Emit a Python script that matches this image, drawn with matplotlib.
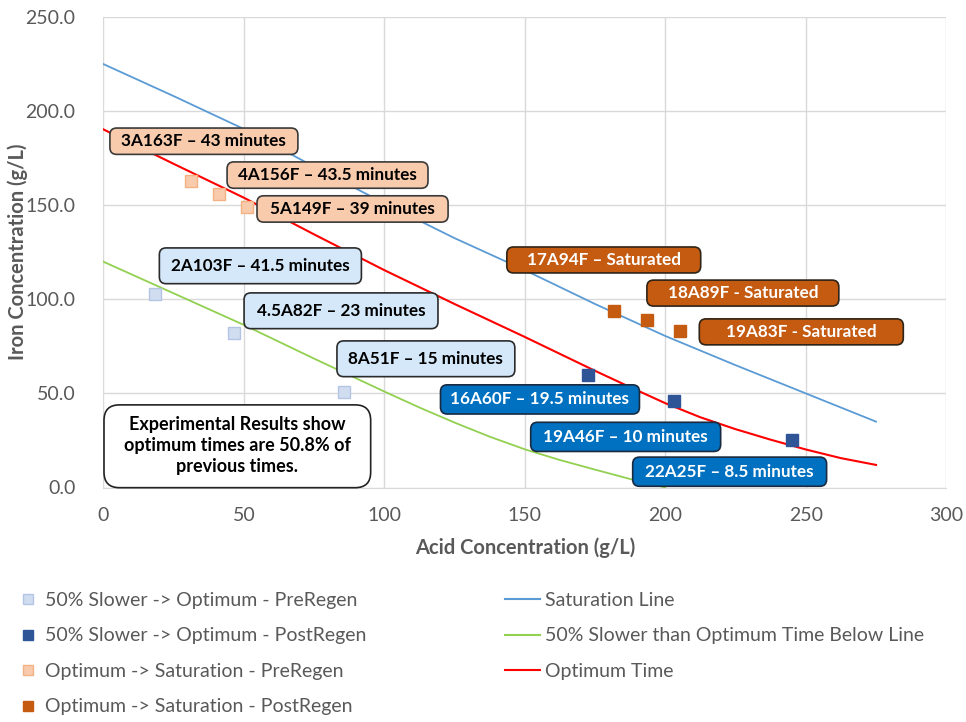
import matplotlib
matplotlib.use("Agg")
from matplotlib import pyplot as plt
from matplotlib.lines import Line2D
from matplotlib.patches import FancyBboxPatch

plt.rcParams['font.family'] = ['Lato', 'DejaVu Sans']

# scatter data (acid g/L, iron g/L)
slow_pre_x = [18.5, 46.6, 85.7]
slow_pre_y = [103, 82, 51]
slow_post_x = [172.6, 203.2, 245.1]
slow_post_y = [60, 46, 25]
opt_pre_x = [31.3, 41.2, 51.2]
opt_pre_y = [163, 156, 149]
opt_post_x = [181.6, 193.5, 205.3]
opt_post_y = [94, 89, 83]

# curves
sat_x = [0, 25, 50, 75, 100, 125, 150, 175, 200, 225, 250, 275]
sat_y = [225, 208, 190.5, 170.5, 151, 132.5, 115.5, 97.5, 80.5, 65, 50, 35]
opt_x = [0, 25, 50, 75, 100, 125, 150, 175, 187.5, 200, 212.5, 225, 237.5, 250, 262.5, 275]
opt_y = [190.3, 172, 154, 134.5, 115.5, 97.5, 80, 62, 53.3, 44.8, 37.3, 31, 25.4, 20.2, 15.6, 12]
slow_x = [0, 25, 50, 75, 100, 112.5, 125, 137.5, 150, 162.5, 175, 187.5, 200]
slow_y = [120, 103.2, 86.4, 68.5, 51, 42.5, 34.5, 27, 20.3, 14.6, 9.5, 4.5, 0]

labels = ["3A163F \u2013 43 minutes", "4A156F \u2013 43.5 minutes", "5A149F \u2013 39 minutes",
          "2A103F \u2013 41.5 minutes", "4.5A82F \u2013 23 minutes", "8A51F \u2013 15 minutes",
          "16A60F \u2013 19.5 minutes", "19A46F \u2013 10 minutes", "22A25F \u2013 8.5 minutes",
          "17A94F \u2013 Saturated", "18A89F - Saturated", "19A83F - Saturated"]
label_kind = ["opt_pre"] * 3 + ["slow_pre"] * 3 + ["slow_post"] * 3 + ["opt_post"] * 3
label_pos = [(35.8, 184), (79.8, 166), (88.7, 148), (55.9, 117.8), (84.6, 93.9), (114.8, 68.4),
             (155.4, 46.8), (185.9, 26.9), (222.9, 8.4), (178.1, 120.9), (227.6, 103.3), (248.4, 82.7)]
label_w = [66.9, 71.5, 68.0, 71.9, 69.0, 63.3, 70.8, 67.6, 69.0, 69.0, 68.3, 72.6]

styles = {
    "slow_pre": dict(fc="#D5E8FA", ec="#2B2B2B", tc="#000000", h=19.0),
    "slow_post": dict(fc="#0070C0", ec="#1A2A40", tc="#FFFFFF", h=15.5),
    "opt_pre": dict(fc="#F8CBAD", ec="#3A3A3A", tc="#000000", h=14.0),
    "opt_post": dict(fc="#C55A11", ec="#2E2418", tc="#FFFFFF", h=13.8),
}

grey = "#595959"
fig = plt.figure(figsize=(9.66, 7.22), dpi=100)
ax = fig.add_axes([103.3 / 966, 1 - 487.5 / 722, 843 / 966, 470.5 / 722])
ax.set_xlim(0, 300)
ax.set_ylim(0, 250)

ax.plot(sat_x, sat_y, color="#5B9BD5", lw=1.3, zorder=2)
ax.plot(slow_x, slow_y, color="#92D050", lw=1.3, zorder=2)
ax.plot(opt_x, opt_y, color="#FF0000", lw=1.5, zorder=2)

mk = dict(marker="s", linestyle="none", markersize=8, zorder=3)
ax.plot(slow_pre_x, slow_pre_y, mfc="#D0DCF0", mec="#B4C4E4", **mk)
ax.plot(slow_post_x, slow_post_y, mfc="#2F5597", mec="#2F5597", **mk)
ax.plot(opt_pre_x, opt_pre_y, mfc="#F8CBAD", mec="#F4B183", **mk)
ax.plot(opt_post_x, opt_post_y, mfc="#C55A11", mec="#C55A11", **mk)

# aspect so rounded corners stay round in data coordinates
ext = ax.get_position()
aspect = (ext.width * 966 / 300) / (ext.height * 722 / 250)

for txt, kind, (lx, ly), w in zip(labels, label_kind, label_pos, label_w):
    st = styles[kind]
    h = st["h"]
    box = FancyBboxPatch((lx - w / 2, ly - h / 2), w, h,
                         boxstyle="round,pad=0,rounding_size=2.4", mutation_aspect=aspect,
                         fc=st["fc"], ec=st["ec"], lw=1.2, zorder=4)
    ax.add_patch(box)
    ax.text(lx, ly, txt, ha="center", va="center", fontsize=12.3, fontweight="bold",
            color=st["tc"], zorder=5)

note_w, note_h = 94.9, 44.0
ax.add_patch(FancyBboxPatch((47.7 - note_w / 2, 21.9 - note_h / 2), note_w, note_h,
                            boxstyle="round,pad=0,rounding_size=5.5", mutation_aspect=aspect,
                            fc="white", ec="#222222", lw=1.2, zorder=4, clip_on=False))
ax.text(47.7, 22.3, "Experimental Results show\noptimum times are 50.8% of\nprevious times.",
        ha="center", va="center", fontsize=13, fontweight="bold", color="#000000",
        linespacing=1.3, zorder=5)

ax.set_xticks(range(0, 301, 50))
ax.set_yticks(range(0, 251, 50))
ax.set_yticklabels([f"{v:.1f}" for v in range(0, 251, 50)])
ax.tick_params(length=0, labelsize=14, labelcolor=grey)
ax.tick_params(axis="x", pad=14)
ax.tick_params(axis="y", pad=20)
ax.grid(True, color="#D9D9D9", lw=1)
ax.set_axisbelow(True)
for s in ax.spines.values():
    s.set_visible(False)
ax.spines["bottom"].set_visible(True)
ax.spines["bottom"].set_color("#D9D9D9")

fig.text(525 / 966, 1 - 548 / 722, "Acid Concentration (g/L)", ha="center", va="center",
         fontsize=14.5, fontweight="bold", color=grey)
fig.text(18 / 966, 1 - 252 / 722, "Iron Concentration (g/L)", ha="center", va="center",
         rotation=90, fontsize=14.5, fontweight="bold", color=grey)

marker_handles = [
    Line2D([], [], marker="s", linestyle="none", markersize=7, mfc="#D0DCF0", mec="#B4C4E4"),
    Line2D([], [], marker="s", linestyle="none", markersize=7, mfc="#2F5597", mec="#2F5597"),
    Line2D([], [], marker="s", linestyle="none", markersize=7, mfc="#F8CBAD", mec="#F4B183"),
    Line2D([], [], marker="s", linestyle="none", markersize=7, mfc="#C55A11", mec="#C55A11"),
]
marker_names = ["50% Slower -> Optimum - PreRegen", "50% Slower -> Optimum - PostRegen",
                "Optimum -> Saturation - PreRegen", "Optimum -> Saturation - PostRegen"]
line_handles = [Line2D([], [], color="#5B9BD5", lw=1.5),
                Line2D([], [], color="#92D050", lw=1.5),
                Line2D([], [], color="#FF0000", lw=1.5)]
line_names = ["Saturation Line", "50% Slower than Optimum Time Below Line", "Optimum Time"]

fig.legend(marker_handles, marker_names, loc="upper left", bbox_to_anchor=(18 / 966, 1 - 592 / 722),
           frameon=False, fontsize=14, labelcolor=grey, handlelength=1.0, handletextpad=0.4,
           labelspacing=0.95, borderaxespad=0, borderpad=0)
fig.legend(line_handles, line_names, loc="upper left", bbox_to_anchor=(505 / 966, 1 - 592 / 722),
           frameon=False, fontsize=14, labelcolor=grey, handlelength=1.8, handletextpad=0.26,
           labelspacing=0.95, borderaxespad=0, borderpad=0)

fig.savefig("out.png", dpi=100)
